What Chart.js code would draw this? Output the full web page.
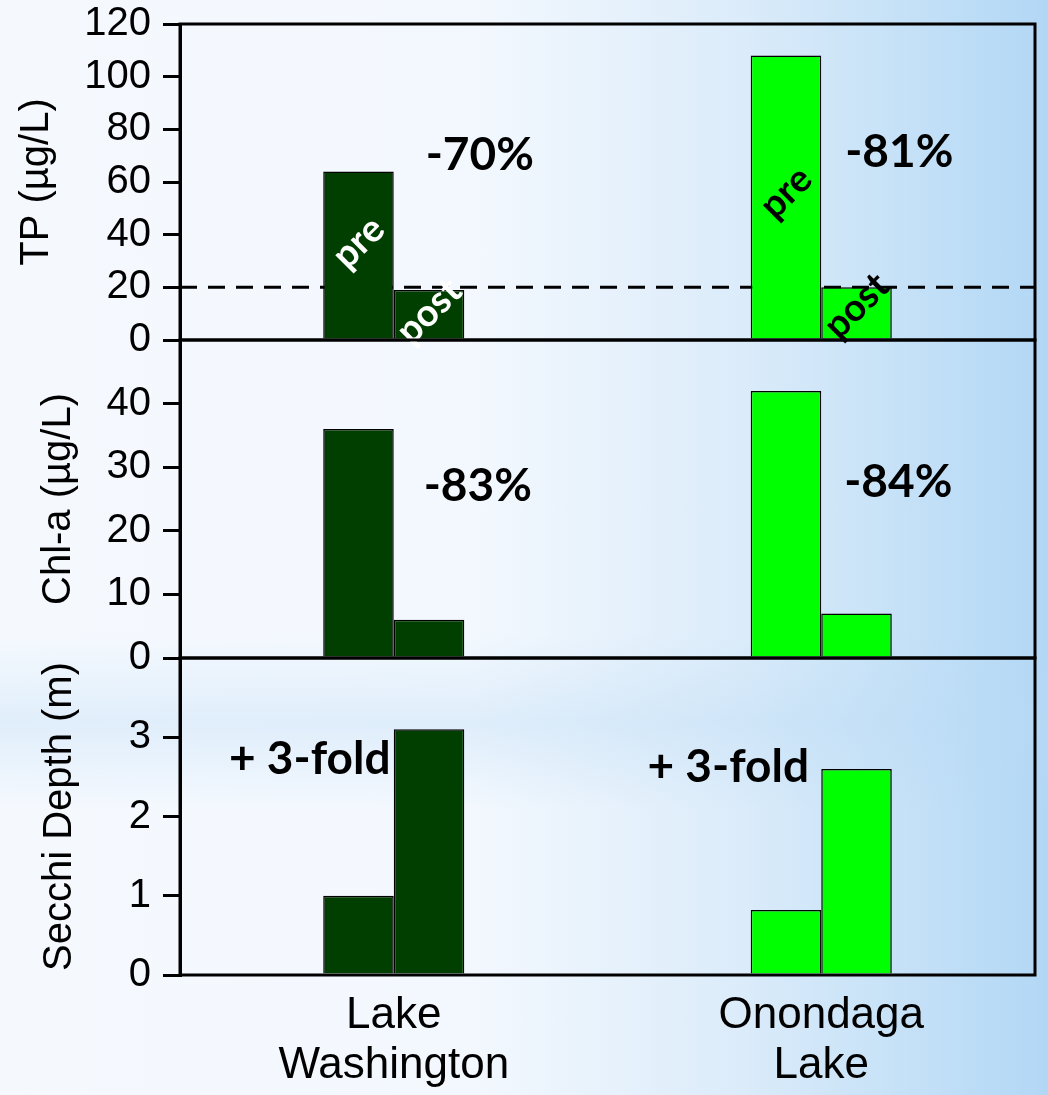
<!DOCTYPE html>
<html>
<head>
<meta charset="utf-8">
<script src="https://cdn.jsdelivr.net/npm/chart.js@4.4.0/dist/chart.umd.min.js"></script>
<style>
  html, body { margin: 0; padding: 0; }
  body {
    width: 1048px; height: 1095px; overflow: hidden;
    background:
      linear-gradient(180deg, rgba(255,255,255,0) 58%, rgba(185,218,245,0.35) 66%, rgba(255,255,255,0) 74%),
      linear-gradient(90deg, #f5f9fe 0%, #f3f8fe 45%, #dcecfa 70%, #c3e0f7 88%, #b2d7f5 100%);
  }
  #wrap { position: relative; width: 1048px; height: 1095px; overflow: hidden; }
  canvas { position: absolute; left: 0; }
</style>
</head>
<body>
<div id="wrap">
  <canvas id="tpChart" width="1048" height="388" style="top:-12px"></canvas>
  <canvas id="chlChart" width="1048" height="390" style="top:304px"></canvas>
  <canvas id="secchiChart" width="1048" height="473" style="top:622px"></canvas>
</div>
<script>
// lakes (x categories)
let lakes = [["Lake", "Washington"], ["Onondaga", "Lake"]];
let lakeColors = ["#003f00", "#00ff00"];

// total phosphorus, µg/L
let tpPre = [64, 108];
let tpPost = [19, 20];
let tpTarget = 20;

// chlorophyll-a, µg/L
let chlPre = [36, 42];
let chlPost = [6, 7];

// Secchi depth, m
let secchiPre = [1.0, 0.82];
let secchiPost = [3.1, 2.6];

// change labels written on the panels
let tpChange = ["-70%", "-81%"];
let chlChange = ["-83%", "-84%"];
let secchiChange = ["+ 3-fold", "+ 3-fold"];

const axisFont = "'Liberation Sans', Arial, sans-serif";
const noteFont = "Lato, 'Open Sans', sans-serif";

function yAxis(title, max, step, titlePad, showTop) {
  return {
    min: 0,
    max: max,
    ticks: {
      stepSize: step,
      color: "#000",
      padding: 12,
      font: { family: axisFont, size: 40 },
      callback: function (v) {
        return (!showTop && v === max) ? "" : v;
      },
    },
    grid: { drawOnChartArea: false, color: "#000", lineWidth: 3, tickLength: 17 },
    border: { display: true, color: "#000", width: 3 },
    title: {
      display: true,
      text: title,
      color: "#000",
      font: { family: axisFont, size: 40 },
      padding: { top: titlePad, bottom: 0 },
    },
    afterFit: function (s) { s.width = 180; },
  };
}

// draws the box round the plot, the change notes and (on TP) the target line and pre/post tags
function panelPlugin(changes, noteAt, extra) {
  return {
    id: "panelDeco",
    beforeDatasetsDraw(chart) {
      if (!extra) return;
      const ctx = chart.ctx, area = chart.chartArea;
      let y = chart.scales.y.getPixelForValue(extra.target);
      ctx.save();
      ctx.setLineDash([17, 11]);
      ctx.lineWidth = 3;
      ctx.strokeStyle = "#000";
      ctx.beginPath();
      ctx.moveTo(area.left, y);
      ctx.lineTo(area.right, y);
      ctx.stroke();
      ctx.restore();
    },
    afterDatasetsDraw(chart) {
      const ctx = chart.ctx, area = chart.chartArea;
      const xs = chart.scales.x, ys = chart.scales.y;
      ctx.save();
      ctx.lineWidth = 3;
      ctx.strokeStyle = "#000";
      ctx.strokeRect(area.left, area.top, area.right - area.left, area.bottom - area.top);

      ctx.fillStyle = "#000";
      ctx.textAlign = "center";
      ctx.textBaseline = "middle";
      ctx.font = "bold 46px " + noteFont;
      for (let i = 0; i < changes.length; i++) {
        ctx.fillText(changes[i], xs.getPixelForValue(i) + noteAt[i].dx, ys.getPixelForValue(noteAt[i].v));
      }

      if (extra) {
        ctx.font = "bold 38px " + noteFont;
        for (let d = 0; d < 2; d++) {
          let meta = chart.getDatasetMeta(d);
          for (let i = 0; i < meta.data.length; i++) {
            let bar = meta.data[i];
            ctx.save();
            ctx.translate(bar.x, ys.getPixelForValue(extra.tagAt[d][i]));
            ctx.rotate(-Math.PI / 4);
            ctx.fillStyle = extra.tagColors[i];
            ctx.fillText(d === 0 ? "pre" : "post", 0, 0);
            ctx.restore();
          }
        }
      }
      ctx.restore();
    },
  };
}

function makePanel(id, pre, post, yOpts, showX, plugin) {
  return new Chart(document.getElementById(id), {
    type: "bar",
    data: {
      labels: lakes,
      datasets: [
        { label: "pre", data: pre, backgroundColor: lakeColors, borderColor: "#000", borderWidth: 1.5 },
        { label: "post", data: post, backgroundColor: lakeColors, borderColor: "#000", borderWidth: 1.5 },
      ],
    },
    options: {
      responsive: false,
      animation: false,
      layout: { padding: { top: 0, bottom: 0, right: 13, left: 0 } },
      datasets: { bar: { categoryPercentage: 0.33, barPercentage: 1.0 } },
      plugins: { legend: { display: false }, tooltip: { enabled: false } },
      scales: {
        x: {
          display: showX,
          grid: { display: false },
          border: { display: false },
          ticks: { color: "#000", padding: 8, font: { family: axisFont, size: 44, lineHeight: 1.14 } },
          afterFit: function (s) { if (showX) s.height = 120; },
        },
        y: yOpts,
      },
    },
    plugins: [plugin],
  });
}

makePanel("tpChart", tpPre, tpPost, yAxis("TP (µg/L)", 120, 20, 13, true), false,
  panelPlugin(tpChange, [{ dx: 86, v: 70 }, { dx: 78, v: 71.5 }], {
    target: tpTarget,
    tagAt: [[37, 56], [11, 13]],
    tagColors: ["#ffffff", "#000000"],
  }));

makePanel("chlChart", chlPre, chlPost, yAxis("Chl-a (µg/L)", 50, 10, 35, false), false,
  panelPlugin(chlChange, [{ dx: 84, v: 27 }, { dx: 77, v: 27.6 }], null));

makePanel("secchiChart", secchiPre, secchiPost, yAxis("Secchi Depth (m)", 4, 1, 36, false), true,
  panelPlugin(secchiChange, [{ dx: -84, v: 2.72 }, { dx: -93, v: 2.62 }], null));
</script>
</body>
</html>
